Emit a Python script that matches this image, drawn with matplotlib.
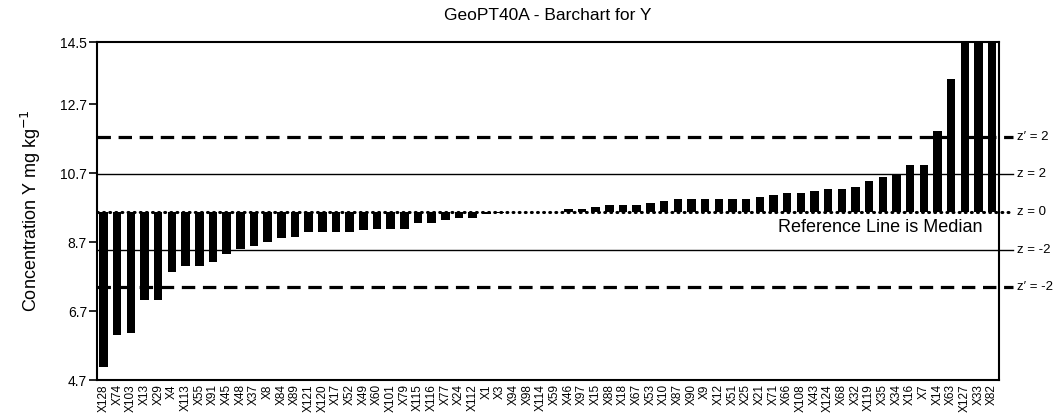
import numpy as np
import matplotlib
matplotlib.use("Agg")
import matplotlib.pyplot as plt
import matplotlib.transforms as mtransforms

plt.rcParams['font.family'] = ['Liberation Sans', 'DejaVu Sans']

# lab codes, sorted by reported value
labs = ["X128", "X74", "X103", "X13", "X29", "X4", "X113", "X55", "X91", "X45",
        "X48", "X37", "X8", "X84", "X89", "X121", "X120", "X17", "X52", "X49",
        "X60", "X101", "X79", "X115", "X116", "X77", "X24", "X112", "X1", "X3",
        "X94", "X98", "X114", "X59", "X46", "X97", "X15", "X88", "X18", "X67",
        "X53", "X10", "X87", "X90", "X9", "X12", "X51", "X25", "X21", "X71",
        "X66", "X108", "X43", "X124", "X68", "X32", "X119", "X35", "X34", "X16",
        "X7", "X14", "X63", "X127", "X33", "X82"]
values = [5.08, 6.00, 6.06, 7.03, 7.03, 7.83, 8.00, 8.00, 8.12, 8.35,
          8.50, 8.58, 8.70, 8.82, 8.86, 9.00, 9.00, 9.00, 9.00, 9.05,
          9.09, 9.09, 9.09, 9.26, 9.26, 9.33, 9.39, 9.39, 9.52, 9.54,
          9.57, 9.57, 9.57, 9.57, 9.67, 9.67, 9.73, 9.78, 9.78, 9.78,
          9.83, 9.89, 9.95, 9.95, 9.95, 9.95, 9.95, 9.95, 10.00, 10.06,
          10.12, 10.12, 10.18, 10.23, 10.23, 10.29, 10.46, 10.58, 10.66, 10.93,
          10.93, 11.92, 13.42, 15.5, 16.5, 17.5]

median = 9.57
z_lines = [10.67, 8.47]        # z = 2, z = -2
zp_lines = [11.75, 7.40]       # z' = 2, z' = -2
yticks = [4.7, 6.7, 8.7, 10.7, 12.7, 14.5]

fig = plt.figure(figsize=(10.63, 4.18), dpi=100)
ax = fig.add_axes([0.091, 0.0909, 0.8488, 0.8086])

x = np.arange(len(labs))
heights = np.array(values) - median
ax.bar(x, heights, bottom=median, width=0.62, color="black", zorder=3)

ax.set_xlim(-0.5, len(labs) - 0.5)
ax.set_ylim(4.7, 14.5)

trans = mtransforms.blended_transform_factory(ax.transAxes, ax.transData)
xe = 1.0155

# reference lines
ax.plot([0, xe], [median, median], transform=trans, clip_on=False, color="black",
        lw=2.2, linestyle=(0, (0.3, 1.7)), dash_capstyle="round", zorder=4)
for yv in z_lines:
    ax.plot([0, xe], [yv, yv], transform=trans, clip_on=False, color="black", lw=1.0, zorder=2)
for yv in zp_lines:
    ax.plot([0, xe], [yv, yv], transform=trans, clip_on=False, color="black",
            lw=2.3, linestyle=(0, (4.2, 2.4)), zorder=2)

lx = 1.02
fs = 9.5
ax.text(lx, zp_lines[0], "z\u2032 = 2", transform=trans, va="center", ha="left", fontsize=fs)
ax.text(lx, z_lines[0], "z = 2", transform=trans, va="center", ha="left", fontsize=fs)
ax.text(lx, median, "z = 0", transform=trans, va="center", ha="left", fontsize=fs)
ax.text(lx, z_lines[1], "z = -2", transform=trans, va="center", ha="left", fontsize=fs)
ax.text(lx, zp_lines[1], "z\u2032 = -2", transform=trans, va="center", ha="left", fontsize=fs)

ax.text(0.982, median - 0.2, "Reference Line is Median", transform=trans,
        ha="right", va="top", fontsize=13)

ax.set_yticks(yticks)
ax.set_yticklabels([str(v) for v in yticks], fontsize=10)
ax.tick_params(axis="y", direction="out", length=6, width=1.2, pad=1)
ax.set_xticks(x)
ax.set_xticklabels(labs, rotation=90, fontsize=8.5)
ax.tick_params(axis="x", length=0, pad=3)

for s in ax.spines.values():
    s.set_linewidth(1.5)
    s.set_color("black")

ax.set_ylabel("Concentration Y mg kg$^{-1}$", fontsize=13, labelpad=12)
ax.set_title("GeoPT40A - Barchart for Y", fontsize=12.5, pad=16)

fig.savefig("out.png", dpi=100)
